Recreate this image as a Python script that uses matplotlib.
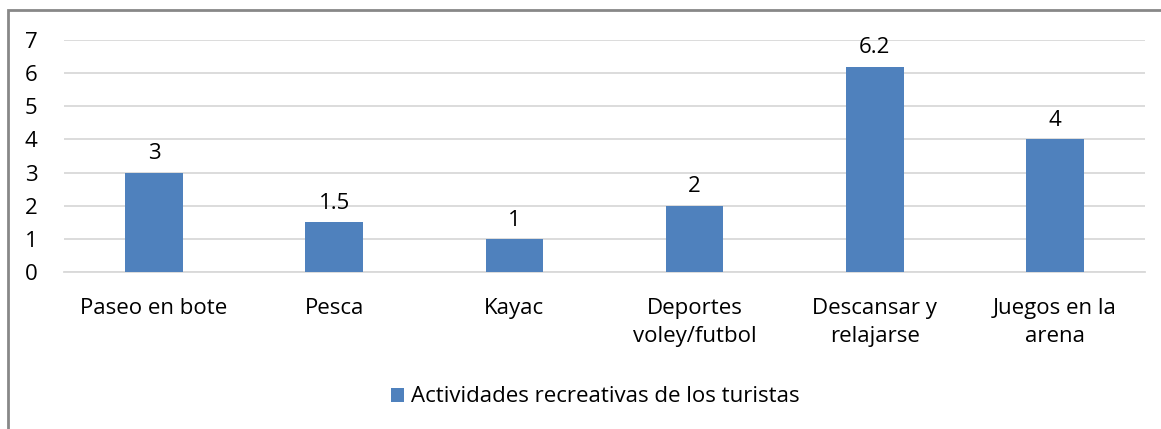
import matplotlib.pyplot as plt
from matplotlib.patches import Rectangle

categories = ["Paseo en bote", "Pesca", "Kayac", "Deportes\nvoley/futbol",
              "Descansar y\nrelajarse", "Juegos en la\narena"]
values = [3, 1.5, 1, 2, 6.2, 4]
value_labels = ["3", "1.5", "1", "2", "6.2", "4"]
series_name = "Actividades recreativas de los turistas"

plt.rcParams['font.family'] = ['Open Sans', 'DejaVu Sans']
fs = 16

fig = plt.figure(figsize=(11.61, 4.29), dpi=100)
ax = fig.add_axes([64 / 1161, 1 - 272 / 429, (1145 - 64) / 1161, (272 - 40) / 429])

x = list(range(len(categories)))
bars = ax.bar(x, values, width=0.32, color="#4F81BD", label=series_name, zorder=3)

for xi, v, lab in zip(x, values, value_labels):
    ax.annotate(lab, (xi, v), xytext=(0, 6), textcoords="offset points",
                ha="center", va="bottom", fontsize=fs, color="black")

ax.set_xlim(-0.5, len(categories) - 0.5)
ax.set_ylim(0, 7)
ax.set_yticks(range(0, 8))
ax.set_xticks(x)
ax.set_xticklabels(categories, fontsize=fs, linespacing=1.4)
ax.tick_params(axis="y", labelsize=fs, length=0, pad=19)
ax.tick_params(axis="x", length=0, pad=19)
for lab in ax.get_yticklabels():
    lab.set_horizontalalignment("right")

ax.grid(axis="y", color="#D9D9D9", linewidth=1.3, zorder=0)
for s in ["top", "right", "left"]:
    ax.spines[s].set_visible(False)
ax.spines["bottom"].set_color("#D9D9D9")
ax.spines["bottom"].set_linewidth(1.3)

fig.legend(handles=[bars], labels=[series_name], loc="center",
           bbox_to_anchor=(595 / 1161, 1 - 397 / 429), frameon=False,
           fontsize=fs, handlelength=0.6, handleheight=0.6, handletextpad=0.3)

fig.patches.append(Rectangle((8 / 1161, -0.1), 1.2, 1 - 10 / 429 + 0.1,
                             transform=fig.transFigure, fill=False,
                             edgecolor="#888888", linewidth=2))

fig.savefig("out.png", dpi=100)
